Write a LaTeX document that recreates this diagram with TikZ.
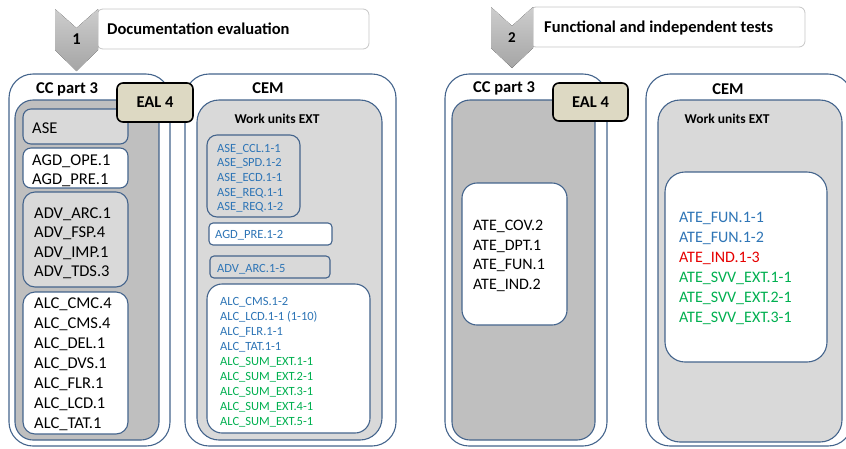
\documentclass[tikz,border=0pt]{standalone}
\usepackage{fontspec}
\setmainfont{Carlito}
\definecolor{boxline}{RGB}{68,100,140}
\definecolor{darkfill}{RGB}{191,191,191}
\definecolor{lightfill}{RGB}{217,217,217}
\definecolor{ealfill}{RGB}{221,217,195}
\definecolor{wublue}{RGB}{46,117,182}
\definecolor{wugreen}{RGB}{0,176,80}
\definecolor{wured}{RGB}{230,0,0}
\definecolor{chevtop}{RGB}{205,205,205}
\definecolor{chevbot}{RGB}{165,165,165}
\newcommand{\bigtxt}{\fontsize{16.5}{20}\selectfont}
\newcommand{\ateTxt}{\fontsize{16}{20}\selectfont}
\newcommand{\midtxt}{\fontsize{13.5}{16}\selectfont}
\newcommand{\smalltxt}{\fontsize{12.5}{15}\selectfont}
\begin{document}
\begin{tikzpicture}[x=1pt, y=-1pt,
  outerbox/.style={draw=boxline, line width=1.1pt, fill=white, rounded corners=24pt, inner sep=0pt},
  innerbox/.style={draw=boxline, line width=1.1pt, rounded corners=18pt, inner sep=0pt},
  ealbox/.style={draw=black, line width=1.6pt, fill=ealfill, rounded corners=6pt, inner sep=0pt, font=\bigtxt\bfseries},
  titlebox/.style={draw=gray!45, line width=0.8pt, fill=white, rounded corners=6pt, inner sep=0pt},
  chev/.style={top color=chevtop, bottom color=chevbot},
  head/.style={anchor=base, inner sep=0pt, font=\bigtxt\bfseries},
  item/.style={anchor=base west, inner sep=0pt, font=\bigtxt},
  wuitem/.style={anchor=base west, inner sep=0pt, font=\smalltxt, text=wublue},
  ]
\useasboundingbox (0,0) rectangle (846,448);
\clip (0,0) rectangle (846,448);

% step headers
\node[titlebox, minimum width=272, minimum height=40] (title1) at (233,29) {};
\node[item, font=\bigtxt\bfseries] (title1t) at (107,34.3) {Documentation evaluation};
\fill[chev] (55,9) -- (76.5,28) -- (98,9) -- (98,50) -- (76.5,71) -- (55,50) -- cycle;
\node[head] (num1) at (76.5,44.5) {1};
\node[titlebox, minimum width=275, minimum height=40] (title2) at (667.5,27) {};
\node[item, font=\bigtxt\bfseries] (title2t) at (544,32.3) {Functional and independent tests};
\fill[chev] (491,7) -- (512,26) -- (533,7) -- (533,48) -- (512,68) -- (491,48) -- cycle;
\node[head, font=\fontsize{15}{18}\selectfont\bfseries] (num2) at (512,42) {2};

% CC part 3, step 1
\node[outerbox, minimum width=161, minimum height=372] (cc1) at (89.5,260) {};
\node[head] (cc1t) at (67,93.3) {CC part 3};
\node[innerbox, fill=darkfill, minimum width=144, minimum height=340] (cc1in) at (87,270) {};
\node[innerbox, fill=lightfill, rounded corners=8pt, minimum width=105, minimum height=35] (ase) at (75.5,126.5) {};
\node[innerbox, fill=white, rounded corners=8pt, minimum width=105, minimum height=40] (agd) at (75.5,168) {};
\node[innerbox, fill=lightfill, rounded corners=12pt, minimum width=105, minimum height=95] (adv) at (75.5,239.5) {};
\node[innerbox, fill=white, rounded corners=12pt, minimum width=105, minimum height=142] (alc) at (75.5,363) {};
\node[item] (aset) at (32,133.3) {ASE};
\node[item] (agd1) at (32,165.3) {AGD\_OPE.1};
\node[item] (agd2) at (32,184.3) {AGD\_PRE.1};
\foreach \t [count=\i] in {ADV\_ARC.1, ADV\_FSP.4, ADV\_IMP.1, ADV\_TDS.3}
  \node[item] (adv\i) at (34,{218.3+19.4*(\i-1)}) {\t};
\foreach \t [count=\i] in {ALC\_CMC.4, ALC\_CMS.4, ALC\_DEL.1, ALC\_DVS.1, ALC\_FLR.1, ALC\_LCD.1, ALC\_TAT.1}
  \node[item] (alc\i) at (34,{308.3+20.1*(\i-1)}) {\t};

% CEM, step 1
\node[outerbox, minimum width=211, minimum height=372] (cem1) at (290.5,260) {};
\node[head] (cem1t) at (268,93.3) {CEM};
\node[innerbox, fill=lightfill, rounded corners=22pt, minimum width=185, minimum height=340] (wu1) at (289.5,270) {};
\node[head, font=\midtxt\bfseries] (wu1t) at (277,123.4) {Work units EXT};
\node[innerbox, fill=lightfill, rounded corners=10pt, minimum width=93, minimum height=82] (wuase) at (253.5,176) {};
\node[innerbox, fill=white, rounded corners=4pt, minimum width=123, minimum height=22] (wuagd) at (270.5,234) {};
\node[innerbox, fill=lightfill, rounded corners=4pt, minimum width=120, minimum height=22] (wuadv) at (270,267) {};
\node[innerbox, fill=white, rounded corners=15pt, minimum width=163, minimum height=149] (wualc) at (288.5,358.5) {};
\foreach \t [count=\i] in {ASE\_CCL.1-1, ASE\_SPD.1-2, ASE\_ECD.1-1, ASE\_REQ.1-1, ASE\_REQ.1-2}
  \node[wuitem] (wuase\i) at (217,{152+14.7*(\i-1)}) {\t};
\node[wuitem] (wuagdt) at (215,238) {AGD\_PRE.1-2};
\node[wuitem] (wuadvt) at (217,272) {ADV\_ARC.1-5};
\foreach \t/\c [count=\i] in {ALC\_CMS.1-2/wublue, ALC\_LCD.1-1 (1-10)/wublue, ALC\_FLR.1-1/wublue,
    ALC\_TAT.1-1/wublue, ALC\_SUM\_EXT.1-1/wugreen, ALC\_SUM\_EXT.2-1/wugreen,
    ALC\_SUM\_EXT.3-1/wugreen, ALC\_SUM\_EXT.4-1/wugreen, ALC\_SUM\_EXT.5-1/wugreen}
  \node[wuitem, text=\c] (wualc\i) at (220,{305+15*(\i-1)}) {\t};

% CC part 3, step 2
\node[outerbox, minimum width=162, minimum height=372] (cc2) at (526,260) {};
\node[head] (cc2t) at (504,92.3) {CC part 3};
\node[innerbox, fill=darkfill, minimum width=143, minimum height=340] (cc2in) at (523.5,270) {};
\node[innerbox, fill=white, rounded corners=15pt, minimum width=105, minimum height=142] (ate) at (514.5,254) {};
\foreach \t [count=\i] in {ATE\_COV.2, ATE\_DPT.1, ATE\_FUN.1, ATE\_IND.2}
  \node[item, font=\ateTxt] (ate\i) at (473,{230.3+19.7*(\i-1)}) {\t};

% CEM, step 2
\node[outerbox, minimum width=206, minimum height=372] (cem2) at (749,260) {};
\node[head] (cem2t) at (728,94) {CEM};
\node[innerbox, fill=lightfill, rounded corners=22pt, minimum width=184, minimum height=342] (wu2) at (750,271) {};
\node[head, font=\midtxt\bfseries] (wu2t) at (727,123.4) {Work units EXT};
\node[innerbox, fill=white, rounded corners=20pt, minimum width=162, minimum height=190] (wuate) at (746,267) {};
\foreach \t/\c [count=\i] in {ATE\_FUN.1-1/wublue, ATE\_FUN.1-2/wublue, ATE\_IND.1-3/wured,
    ATE\_SVV\_EXT.1-1/wugreen, ATE\_SVV\_EXT.2-1/wugreen, ATE\_SVV\_EXT.3-1/wugreen}
  \node[item, font=\ateTxt, text=\c] (wuate\i) at (679,{222.3+20*(\i-1)}) {\t};

% EAL labels on top
\node[ealbox, minimum width=76, minimum height=39] (eal1) at (155,102.5) {EAL 4};
\node[ealbox, minimum width=75, minimum height=38] (eal2) at (590.5,102) {EAL 4};
\end{tikzpicture}
\end{document}
